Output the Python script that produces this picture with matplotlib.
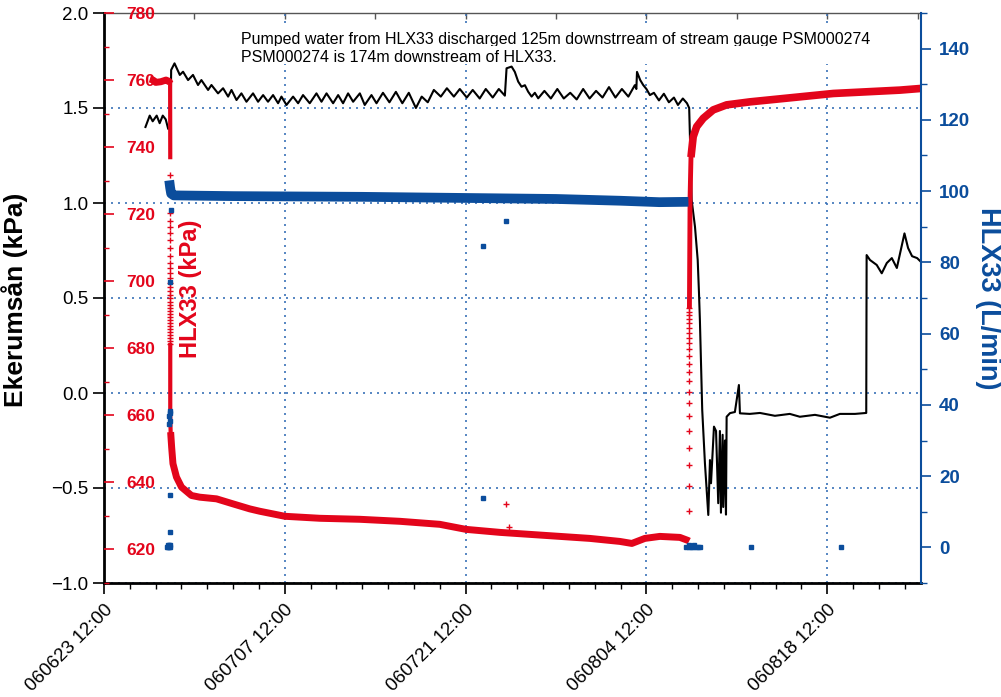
import matplotlib
matplotlib.use('Agg')
import matplotlib.pyplot as plt
from matplotlib.ticker import MultipleLocator, FixedLocator, FuncFormatter
from matplotlib.patches import Rectangle
from datetime import datetime, timedelta

plt.rcParams['font.family'] = ['Liberation Sans', 'DejaVu Sans']

START = datetime(2006, 6, 23, 12, 0)
X_END = 63.26  # days shown after START

RED = '#e3051b'
BLUE = '#0b4d9c'
GRID = '#3a72b8'

# Ekerumsån stream gauge (kPa); x = days after START
eker_days = [3.21, 3.54, 3.77, 4.08, 4.31, 4.55, 4.78, 4.97, 5.15, 5.20, 5.46,
             5.87, 6.12, 6.51, 6.89, 7.28, 7.54, 8.06, 8.32, 8.83, 9.22, 9.61, 9.87,
             10.26, 10.64, 11.03, 11.54, 11.93, 12.32, 12.70, 13.09, 13.48, 13.74,
             14.13, 14.64, 15.03, 15.41, 15.93, 16.45, 16.84, 17.23, 17.74, 18.13,
             18.51, 18.90, 19.29, 19.81, 20.19, 20.71, 21.10,
             21.60, 22.10, 22.60, 23.10, 23.60, 24.15, 24.60, 25.07, 25.54, 26.08,
             26.55, 27.09, 27.55, 28.09, 28.55, 29.09, 29.56, 30.10, 30.57, 31.04,
             31.17, 31.56, 31.81, 32.07, 32.33, 32.59, 32.84, 33.11, 33.36, 33.62,
             34.10, 34.60, 35.10, 35.60, 36.10, 36.60, 37.10, 37.60, 38.10, 38.60,
             39.10, 39.60, 40.10, 40.60, 41.10, 41.22, 41.27,
             41.52, 41.75, 42.00, 42.27, 42.58, 42.97, 43.35, 43.74, 44.13, 44.44,
             44.82, 45.14, 45.31,
             45.50, 45.76, 45.97, 46.07, 46.14, 46.22, 46.32, 46.53, 46.79,
             46.92, 47.00, 47.23, 47.39, 47.56, 47.69, 47.77, 47.90, 47.95, 48.08,
             48.16, 48.21, 48.47, 48.85, 48.99, 49.16, 49.24,
             50.00, 50.79, 51.95, 53.10, 53.88, 55.05, 56.21, 56.98, 58.15, 59.02,
             59.05, 59.31, 59.83, 60.22, 60.61, 61.00, 61.39, 61.98, 62.26, 62.57,
             62.96, 63.26]
eker_kpa = [1.40, 1.46, 1.43, 1.46, 1.42, 1.46, 1.44, 1.39, 1.40, 1.70, 1.735,
            1.674, 1.691, 1.647, 1.674, 1.621, 1.647, 1.595, 1.621, 1.577, 1.604, 1.56, 1.595,
            1.542, 1.577, 1.533, 1.577, 1.533, 1.568, 1.533, 1.568, 1.525, 1.56,
            1.516, 1.56, 1.525, 1.568, 1.525, 1.577, 1.533, 1.577, 1.525, 1.568,
            1.525, 1.577, 1.533, 1.577, 1.516, 1.568, 1.525,
            1.58, 1.53, 1.585, 1.525, 1.58, 1.50, 1.56, 1.53, 1.595, 1.56,
            1.604, 1.56, 1.60, 1.555, 1.595, 1.55, 1.60, 1.555, 1.60, 1.565,
            1.709, 1.718, 1.69, 1.639, 1.612, 1.62, 1.586, 1.56, 1.58, 1.551,
            1.59, 1.55, 1.60, 1.55, 1.58, 1.545, 1.60, 1.55, 1.59, 1.555,
            1.61, 1.555, 1.60, 1.56, 1.62, 1.60, 1.69,
            1.647, 1.621, 1.60, 1.568, 1.58, 1.54, 1.575, 1.53, 1.555, 1.516,
            1.55, 1.525, 1.50,
            1.016, 0.875, 0.70, 0.526, 0.384, 0.174, -0.089, -0.37, -0.642,
            -0.353, -0.475, -0.177, -0.20, -0.58, -0.20, -0.63, -0.22, -0.60, -0.25,
            -0.64, -0.125, -0.106, -0.10, -0.037, 0.042, -0.107,
            -0.11, -0.105, -0.12, -0.11, -0.125, -0.115, -0.13, -0.11, -0.11, -0.105,
            0.726, 0.70, 0.674, 0.63, 0.684, 0.71, 0.658, 0.84, 0.763, 0.72,
            0.71, 0.69]

# HLX33 pressure (kPa)
hlx_pre_days = [3.55, 3.80, 4.00, 4.40, 4.80, 5.05, 5.12]
hlx_pre_kpa = [760.3, 760.0, 759.3, 759.5, 760.0, 759.6, 759.0]
hlx_fall_days = [5.12, 5.13]
hlx_fall_kpa = [759.0, 737.0]
hlx_draw_day = 5.13
hlx_draw_kpa = [731.6, 720.3, 717.9, 716.1, 714.3, 712.2, 709.9, 707.5, 705.4, 703.9,
                702.4, 700.9, 699.4, 698.2, 697.0, 695.8, 694.9, 693.7, 692.8, 691.9,
                691.0, 690.1, 689.3, 688.4, 687.5, 686.6, 685.7, 684.8, 683.9, 683.0,
                682.1, 681.2]
hlx_dense_days = [5.13, 5.13, 5.16]
hlx_dense_kpa = [681.0, 660.0, 655.0]
hlx_pump_days = [5.16, 5.24, 5.34, 5.61, 6.00, 6.77, 7.41, 8.71, 9.99, 11.29, 12.06,
                 14.00, 16.72, 19.81, 22.91, 26.00, 28.02, 30.65, 32.98, 35.30, 37.62,
                 39.94, 40.87, 41.88, 43.04, 44.59, 45.21, 45.31]
hlx_pump_kpa = [655.0, 650.4, 645.6, 641.6, 638.6, 636.1, 635.6, 635.1, 633.6, 632.1, 631.4,
                629.9, 629.3, 629.0, 628.4, 627.5, 626.0, 625.1, 624.5, 623.9, 623.3,
                622.4, 621.8, 623.3, 623.9, 623.6, 622.7, 622.5]
hlx_stray_days = [31.12, 31.35]
hlx_stray_kpa = [633.7, 626.6]
hlx_recov_day = 45.31
hlx_recov_kpa = [631.6, 638.8, 645.1, 650.4, 655.2, 659.7, 663.6, 666.9, 670.1, 672.8,
                 675.2, 677.6, 679.7, 681.5, 683.0, 684.5, 686.0, 687.5, 688.7, 689.9,
                 690.7, 691.9]
hlx_rise_days = [45.33, 45.38, 45.45]
hlx_rise_kpa = [692.5, 725.0, 737.0]
hlx_post_days = [45.45, 45.62, 45.89, 46.40, 47.17, 48.21, 50.02, 52.60, 55.18, 56.47,
                 59.06, 61.63, 63.26]
hlx_post_kpa = [737.0, 743.1, 746.1, 748.6, 751.1, 752.6, 753.5, 754.5, 755.5, 756.0,
                756.5, 757.0, 757.5]

# HLX33 pumping rate (L/min)
flow_band_days = [5.05, 5.12, 5.20, 5.40, 10.0, 15.0, 20.0, 25.0, 30.0, 35.0, 40.0, 43.0, 45.25]
flow_band_lpm = [103.0, 101.0, 99.3, 98.8, 98.6, 98.5, 98.4, 98.2, 98.0, 97.8, 97.3, 96.9, 97.0]
flow_pts_days = [4.85, 4.95, 5.05, 5.12, 4.95, 5.05, 5.12, 5.08, 5.08, 5.06, 5.10, 5.06,
                 5.10, 5.10, 5.17, 29.33, 31.11, 29.33,
                 45.10, 45.28, 45.46, 45.64, 45.82, 46.00, 46.18, 45.30, 45.70, 50.09, 57.06]
flow_pts_lpm = [0.0, 0.0, 0.0, 0.0, 0.6, 0.6, 0.6, 4.3, 14.7, 34.6, 35.6, 36.8,
                37.6, 38.2, 94.7, 84.6, 91.6, 13.9,
                0.0, 0.0, 0.0, 0.0, 0.0, 0.0, 0.0, 0.8, 0.8, 0.0, 0.0]
flow_mid_days = [5.10]
flow_mid_lpm = [74.5]

notes = ['Pumped water from HLX33 discharged 125m downstrream of stream gauge PSM000274',
         'PSM000274 is 174m downstream of HLX33.']


def fmt_day(d, pos):
    return (START + timedelta(days=float(d))).strftime('%y%m%d %H:%M')


fig = plt.figure(figsize=(10.01, 6.97), dpi=100)
ax = fig.add_axes([104 / 1001, 1 - 583 / 697, 817 / 1001, 570 / 697])
ax_red = ax.twinx()
ax_blue = ax.twinx()

# stream gauge, left axis
ax.plot(eker_days, eker_kpa, color='black', linewidth=1.5, zorder=3)
ax.set_xlim(0, X_END)
ax.set_ylim(-1.0, 2.0)
ax.yaxis.set_major_locator(MultipleLocator(0.5))
ax.yaxis.set_major_formatter(FuncFormatter(lambda v, p: f'{v:.1f}'.replace('-', '\u2212')))
ax.xaxis.set_major_locator(FixedLocator([0, 14, 28, 42, 56]))
ax.xaxis.set_minor_locator(MultipleLocator(2))
ax.xaxis.set_major_formatter(FuncFormatter(fmt_day))
ax.grid(True, which='major', color=GRID, linestyle=(0, (1.2, 3)), linewidth=1.2)
ax.tick_params(axis='y', direction='out', length=8, width=1.2, labelsize=13.5, pad=3)
ax.tick_params(axis='x', which='major', direction='out', length=8, width=1.2,
               labelsize=13.5, pad=5)
ax.tick_params(axis='x', which='minor', direction='out', length=4.5, width=1.0)
for lab in ax.get_xticklabels():
    lab.set_rotation(45)
    lab.set_ha('right')
    lab.set_va('top')
    lab.set_rotation_mode('anchor')
ax.spines['left'].set_linewidth(2)
ax.spines['bottom'].set_linewidth(2)
ax.spines['top'].set_color('#555555')
ax.spines['top'].set_linewidth(1)
ax.spines['right'].set_visible(False)

top = ax.secondary_xaxis('top')
top.xaxis.set_major_locator(MultipleLocator(7))
top.tick_params(direction='in', length=4, width=1, labeltop=False, color='#555555')
top.spines['top'].set_visible(False)

# HLX33 pressure, inner left axis
mk = dict(color=RED, marker='+', markersize=4.5, markeredgewidth=1.0, linestyle='none')
ax_red.plot(hlx_pre_days, hlx_pre_kpa, color=RED, linewidth=5, solid_capstyle='butt')
ax_red.plot(hlx_fall_days, hlx_fall_kpa, color=RED, linewidth=3)
ax_red.plot([hlx_draw_day] * len(hlx_draw_kpa), hlx_draw_kpa, **mk)
ax_red.plot(hlx_dense_days, hlx_dense_kpa, color=RED, linewidth=3)
ax_red.plot(hlx_pump_days, hlx_pump_kpa, color=RED, linewidth=5, solid_capstyle='butt')
ax_red.plot(hlx_stray_days, hlx_stray_kpa, **mk)
ax_red.plot([hlx_recov_day] * len(hlx_recov_kpa), hlx_recov_kpa, **mk)
ax_red.plot(hlx_rise_days, hlx_rise_kpa, color=RED, linewidth=3.5)
ax_red.plot(hlx_post_days, hlx_post_kpa, color=RED, linewidth=5.5, solid_capstyle='butt')
ax_red.set_ylim(610, 780)
ax_red.yaxis.set_ticks_position('left')
ax_red.set_yticks(range(620, 781, 20))
ax_red.yaxis.set_minor_locator(MultipleLocator(10))
ax_red.tick_params(axis='y', which='major', direction='in', length=7, width=1.2,
                   color=RED, labelcolor=RED, labelsize=12.5, pad=-37)
ax_red.tick_params(axis='y', which='minor', direction='in', length=3.5, width=1.0, color=RED)
for lab in ax_red.get_yticklabels():
    lab.set_fontweight('bold')
for s in ax_red.spines.values():
    s.set_visible(False)

# HLX33 flow, right axis
ax_blue.plot(flow_band_days, flow_band_lpm, color=BLUE, linewidth=7, solid_capstyle='butt')
ax_blue.plot(flow_pts_days, flow_pts_lpm, color=BLUE, marker='s', markersize=3.2, linestyle='none')
ax_blue.plot(flow_mid_days, flow_mid_lpm, color=BLUE, marker='s', markersize=3.2, linestyle='none')
ax_blue.set_ylim(-10, 150)
ax_blue.set_yticks(range(0, 141, 20))
ax_blue.yaxis.set_minor_locator(MultipleLocator(10))
ax_blue.tick_params(axis='y', which='major', direction='out', length=7, width=1.2,
                    color=BLUE, labelcolor=BLUE, labelsize=13.5, pad=6)
ax_blue.tick_params(axis='y', which='minor', direction='out', length=4, width=1.0, color=BLUE)
for lab in ax_blue.get_yticklabels():
    lab.set_fontweight('bold')
for name, s in ax_blue.spines.items():
    s.set_visible(name == 'right')
ax_blue.spines['right'].set_color(BLUE)
ax_blue.spines['right'].set_linewidth(1.5)

# axis titles
fig.text(15 / 1001, 1 - 300 / 697, 'Ekerumsån (kPa)', rotation=90, fontsize=19,
         fontweight='bold', ha='center', va='center')
fig.text(191 / 1001, 1 - 289 / 697, 'HLX33 (kPa)', rotation=90, fontsize=17,
         fontweight='bold', color=RED, ha='center', va='center')
fig.text(988 / 1001, 1 - 298 / 697, 'HLX33 (L/min)', rotation=270, fontsize=19.5,
         fontweight='bold', color=BLUE, ha='center', va='center')

# note box; the second line's box cuts the first line's descenders
fig.add_artist(Rectangle((238 / 1001, 1 - 64 / 697), 640 / 1001, 36 / 697,
                         transform=fig.transFigure, facecolor='white', edgecolor='none', zorder=2))
fig.text(241 / 1001, 1 - 44 / 697, notes[0], fontsize=11.5, va='baseline', zorder=3)
fig.add_artist(Rectangle((238 / 1001, 1 - 64 / 697), 640 / 1001, 17.5 / 697,
                         transform=fig.transFigure, facecolor='white', edgecolor='none', zorder=4))
fig.text(241 / 1001, 1 - 61.7 / 697, notes[1], fontsize=11.5, va='baseline', zorder=5)

fig.savefig('out.png', dpi=100)
plt.close()
